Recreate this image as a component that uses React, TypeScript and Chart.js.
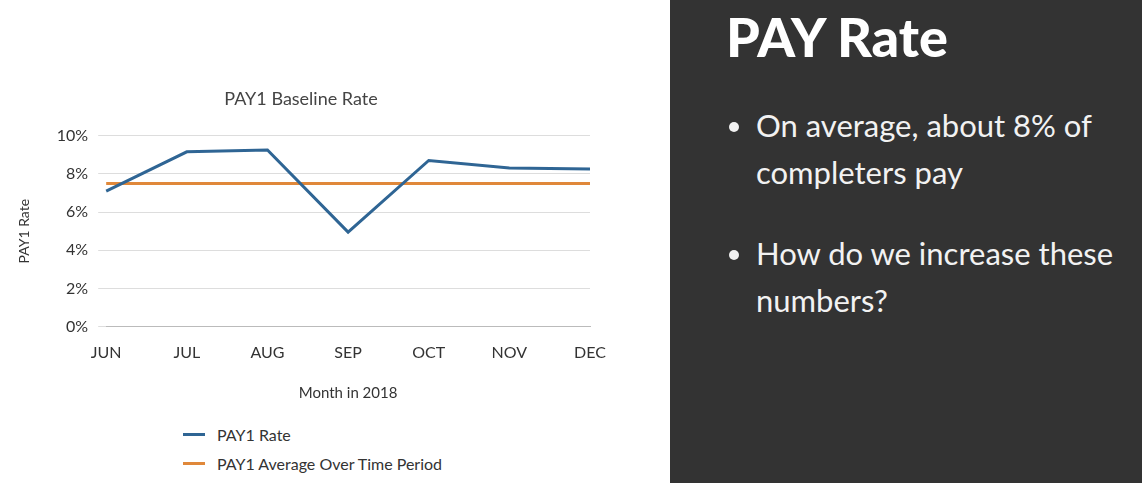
import React, { useEffect, useRef } from "react";
import Chart from "chart.js/auto";

const months = ["JUN", "JUL", "AUG", "SEP", "OCT", "NOV", "DEC"];
const payRate = [7.1, 9.15, 9.25, 4.95, 8.7, 8.3, 8.25];
const payAverage = [7.5, 7.5, 7.5, 7.5, 7.5, 7.5, 7.5];
const seriesNames = ["PAY1 Rate", "PAY1 Average Over Time Period"];
const seriesColors = ["#2f6594", "#e0883a"];

const FONT = "Lato, 'Open Sans', sans-serif";

export default function App() {
  const canvasRef = useRef<HTMLCanvasElement | null>(null);
  const chartRef = useRef<any>(null);

  useEffect(() => {
    if (!canvasRef.current) return;
    if (chartRef.current) chartRef.current.destroy();
    chartRef.current = new Chart(canvasRef.current, {
      type: "line",
      data: {
        labels: months,
        datasets: [
          { label: seriesNames[0], data: payRate, borderColor: seriesColors[0], borderWidth: 3, pointRadius: 0, tension: 0 },
          { label: seriesNames[1], data: payAverage, borderColor: seriesColors[1], borderWidth: 3, pointRadius: 0, tension: 0 },
        ],
      },
      options: {
        responsive: false,
        animation: false,
        layout: { padding: { left: 12, right: 70, top: 88, bottom: 0 } },
        plugins: {
          legend: { display: false },
          tooltip: { enabled: false },
          title: {
            display: true,
            text: "PAY1 Baseline Rate",
            color: "#444",
            font: { family: FONT, size: 18, weight: "normal" },
            padding: { top: 0, bottom: 26 },
          },
        },
        scales: {
          x: {
            offset: false,
            grid: { display: false },
            border: { color: "#bbb" },
            ticks: { color: "#333", font: { family: FONT, size: 16 }, padding: 8 },
            title: { display: true, text: "Month in 2018", color: "#333", font: { family: FONT, size: 15 }, padding: { top: 14 } },
          },
          y: {
            min: 0,
            max: 10,
            grid: { color: "#ddd" },
            border: { display: false },
            ticks: { stepSize: 2, color: "#333", font: { family: FONT, size: 16 }, padding: 10, callback: (v: any) => v + "%" },
            title: { display: true, text: "PAY1 Rate", color: "#333", font: { family: FONT, size: 14 }, padding: { bottom: 14 } },
          },
        },
      },
    });
    return () => chartRef.current?.destroy();
  }, []);

  return (
    <div style={{ position: "fixed", left: 0, top: 0, width: 1142, height: 483, background: "#fff", overflow: "hidden" }}>
      <canvas ref={canvasRef} width={660} height={406} style={{ position: "absolute", left: 0, top: 0 }} />
      <div style={{ position: "absolute", left: 183, top: 420, fontFamily: FONT, fontSize: 16, color: "#333" }}>
        {seriesNames.map((n, i) => (
          <div key={n} style={{ display: "flex", alignItems: "center", height: 29 }}>
            <span style={{ display: "inline-block", width: 22, height: 3, background: seriesColors[i], marginRight: 12 }} />
            {n}
          </div>
        ))}
      </div>
      <div style={{ position: "absolute", left: 670, top: 0, width: 472, height: 483, background: "#333333", fontFamily: FONT, color: "#f2f2f2" }}>
        <div style={{ position: "absolute", left: 56, top: 4, fontSize: 54, fontWeight: 900, color: "#fff" }}>PAY Rate</div>
        <ul style={{ position: "absolute", left: 50, top: 102, margin: 0, paddingLeft: 36, fontSize: 31, lineHeight: "47px", width: 390 }}>
          <li style={{ marginBottom: 34 }}>On average, about 8% of completers pay</li>
          <li>How do we increase these numbers?</li>
        </ul>
      </div>
    </div>
  );
}
